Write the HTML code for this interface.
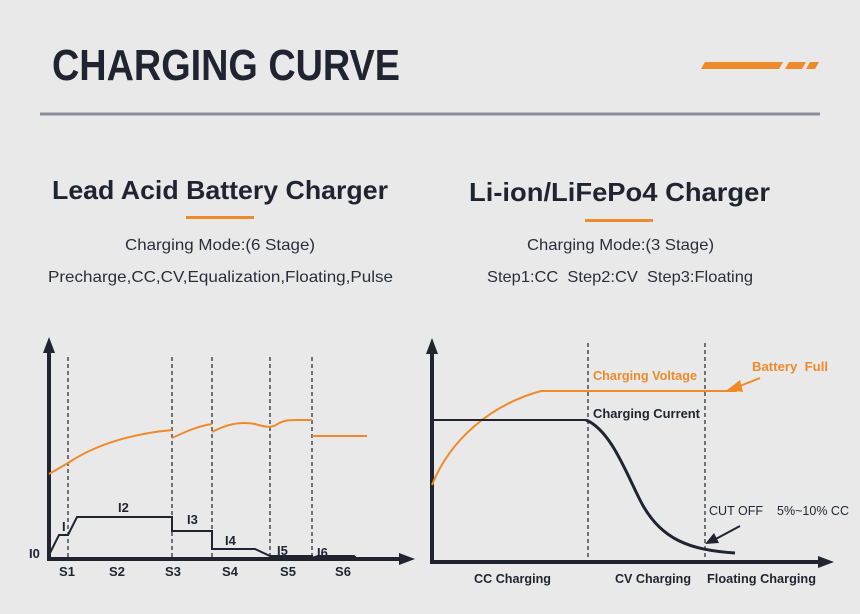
<!DOCTYPE html>
<html><head><meta charset="utf-8"><style>
html,body{margin:0;padding:0;background:#e9e9e9;}
svg{display:block;font-family:"Liberation Sans",sans-serif;}
text{white-space:pre;}
</style></head><body>
<svg width="860" height="614" viewBox="0 0 860 614" xmlns="http://www.w3.org/2000/svg" xml:space="preserve">
<rect width="860" height="614" fill="#e9e9e9"/>
<text x="52" y="80" font-size="44" font-weight="bold" fill="#1f2430" textLength="348" lengthAdjust="spacingAndGlyphs">CHARGING CURVE</text>
<polygon points="705,62 783,62 779,69 701,69" fill="#ee8a2a"/>
<polygon points="789,62 806,62 802,69 785,69" fill="#ee8a2a"/>
<polygon points="810,62 819,62 815,69 806,69" fill="#ee8a2a"/>
<rect x="40" y="112.5" width="780" height="3" fill="#8a8e9a"/>

<text x="52" y="199" font-size="26" font-weight="bold" fill="#1f2430" textLength="336" lengthAdjust="spacingAndGlyphs">Lead Acid Battery Charger</text>
<rect x="186" y="216" width="68" height="3" fill="#ee8a2a"/>
<text x="220" y="250" font-size="16" fill="#2a2e38" text-anchor="middle" textLength="190" lengthAdjust="spacingAndGlyphs">Charging Mode:(6 Stage)</text>
<text x="48" y="282" font-size="16" fill="#2a2e38" textLength="345" lengthAdjust="spacingAndGlyphs">Precharge,CC,CV,Equalization,Floating,Pulse</text>

<text x="469" y="201" font-size="26" font-weight="bold" fill="#1f2430" textLength="301" lengthAdjust="spacingAndGlyphs">Li-ion/LiFePo4 Charger</text>
<rect x="585" y="219" width="68" height="3" fill="#ee8a2a"/>
<text x="527" y="250" font-size="16" fill="#2a2e38" textLength="187" lengthAdjust="spacingAndGlyphs">Charging Mode:(3 Stage)</text>
<text x="487" y="282" font-size="16" fill="#2a2e38" textLength="266" lengthAdjust="spacingAndGlyphs">Step1:CC  Step2:CV  Step3:Floating</text>

<!-- Left chart -->
<g stroke="#1f2430" stroke-width="1.2" stroke-dasharray="4,3">
<line x1="68" y1="357" x2="68" y2="559"/>
<line x1="172" y1="357" x2="172" y2="559"/>
<line x1="212" y1="357" x2="212" y2="559"/>
<line x1="270" y1="357" x2="270" y2="559"/>
<line x1="312" y1="357" x2="312" y2="559"/>
</g>
<line x1="49" y1="347" x2="49" y2="560" stroke="#1f2430" stroke-width="4"/>
<polygon points="49,337 43,353 55,353" fill="#1f2430"/>
<line x1="47" y1="559" x2="402" y2="559" stroke="#1f2430" stroke-width="4"/>
<polygon points="415,559 399,553 399,565" fill="#1f2430"/>
<g fill="none" stroke="#ee8a2a" stroke-width="2">
<path d="M49,474 L68,463 C95,445 130,434 172,430"/>
<path d="M172,438 C185,432 198,426 212,424"/>
<path d="M212,432 C225,425 240,421 255,424 C265,427 270,428 276,425 C285,419 290,420 312,420"/>
<path d="M312,436 L367,436"/>
</g>
<path d="M49,555 L59,535 L68,535 L77,517 L172,517 L172,531 L212,531 L212,549 L255,549 L270,556 L312,556 L312,558 L318,556 L354,556 L356,558 L367,558" fill="none" stroke="#1f2430" stroke-width="2"/>
<g font-size="13" fill="#1f2430" font-weight="bold">
<text x="29" y="558">I0</text>
<text x="62" y="531">I</text>
<text x="118" y="512">I2</text>
<text x="187" y="524">I3</text>
<text x="225" y="545">I4</text>
<text x="277" y="555">I5</text>
<text x="317" y="557">I6</text>
<text x="67" y="576" text-anchor="middle">S1</text>
<text x="117" y="576" text-anchor="middle">S2</text>
<text x="173" y="576" text-anchor="middle">S3</text>
<text x="230" y="576" text-anchor="middle">S4</text>
<text x="288" y="576" text-anchor="middle">S5</text>
<text x="343" y="576" text-anchor="middle">S6</text>
</g>

<!-- Right chart -->
<g stroke="#1f2430" stroke-width="1.2" stroke-dasharray="4,3">
<line x1="588" y1="343" x2="588" y2="562"/>
<line x1="705" y1="343" x2="705" y2="562"/>
</g>
<line x1="432" y1="348" x2="432" y2="563" stroke="#1f2430" stroke-width="4"/>
<polygon points="432,338 426,354 438,354" fill="#1f2430"/>
<line x1="430" y1="562" x2="820" y2="562" stroke="#1f2430" stroke-width="4"/>
<polygon points="834,562 818,556 818,568" fill="#1f2430"/>
<path d="M432,485 C450,440 490,405 541,391 L737,391" fill="none" stroke="#ee8a2a" stroke-width="2"/>
<line x1="760" y1="378" x2="735" y2="388" stroke="#ee8a2a" stroke-width="2"/>
<polygon points="727,390 740,380 743,392" fill="#ee8a2a"/>
<line x1="432" y1="420" x2="586" y2="420" stroke="#1f2430" stroke-width="2"/>
<path d="M586,420 C610,430 625,470 640,500 C660,540 690,550 735,553" fill="none" stroke="#1f2430" stroke-width="3"/>
<line x1="740" y1="526" x2="712" y2="541" stroke="#1f2430" stroke-width="2"/>
<polygon points="705,544 714,533 719,543" fill="#1f2430"/>
<text x="593" y="380" font-size="13" font-weight="bold" fill="#ee8a2a" textLength="104" lengthAdjust="spacingAndGlyphs">Charging Voltage</text>
<text x="752" y="371" font-size="13" font-weight="bold" fill="#ee8a2a" textLength="76" lengthAdjust="spacingAndGlyphs">Battery  Full</text>
<text x="593" y="418" font-size="13" font-weight="bold" fill="#1f2430" textLength="107" lengthAdjust="spacingAndGlyphs">Charging Current</text>
<text x="709" y="515" font-size="13" fill="#1f2430" textLength="54" lengthAdjust="spacingAndGlyphs">CUT OFF</text>
<text x="777" y="515" font-size="13" fill="#1f2430" textLength="72" lengthAdjust="spacingAndGlyphs">5%~10% CC</text>
<text x="474" y="583" font-size="13" font-weight="bold" fill="#1f2430" textLength="77" lengthAdjust="spacingAndGlyphs">CC Charging</text>
<text x="615" y="583" font-size="13" font-weight="bold" fill="#1f2430" textLength="76" lengthAdjust="spacingAndGlyphs">CV Charging</text>
<text x="707" y="583" font-size="13" font-weight="bold" fill="#1f2430" textLength="109" lengthAdjust="spacingAndGlyphs">Floating Charging</text>
</svg>
</body></html>
